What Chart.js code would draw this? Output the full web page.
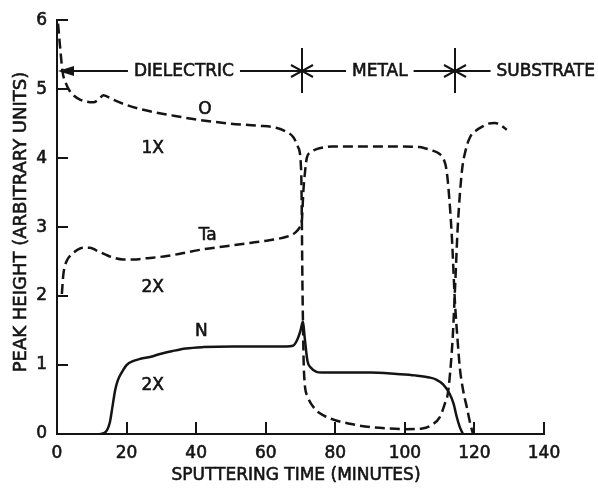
<!DOCTYPE html>
<html>
<head>
<meta charset="utf-8">
<script src="https://cdn.jsdelivr.net/npm/chart.js@4.4.0/dist/chart.umd.min.js"></script>
<style>
  html, body { margin: 0; padding: 0; background: #fff; }
  canvas { display: block; }
</style>
</head>
<body>
<canvas id="depthChart" width="598" height="489"></canvas>
<script>
// Profil de pulvérisation : O, Ta, N en fonction du temps
const oTime = [0.3, 1.0, 1.6, 2.6, 3.7, 5, 6.6, 8.5, 10.4, 12, 13.3, 16, 20, 26.7, 33, 40, 50, 58, 63, 66, 68, 69.3, 70.2, 70.6, 71, 72, 74, 77, 80, 85, 90, 95, 100, 105, 108, 110, 111.5, 112.4, 113.2, 113.8, 114.5, 115.2, 116.4, 117.5, 118.7, 120.5, 122.4, 124, 125.9, 127.5, 129.3];
const oPeak = [5.95, 5.55, 5.25, 5.08, 4.97, 4.9, 4.85, 4.82, 4.81, 4.85, 4.91, 4.85, 4.77, 4.68, 4.62, 4.56, 4.5, 4.47, 4.44, 4.38, 4.3, 4.16, 3.8, 2.0, 0.9, 0.55, 0.37, 0.26, 0.2, 0.14, 0.1, 0.08, 0.07, 0.08, 0.14, 0.24, 0.44, 0.6, 1.0, 1.44, 2.2, 3.0, 3.81, 4.12, 4.3, 4.4, 4.46, 4.5, 4.51, 4.48, 4.41];

const taTime = [1.4, 1.8, 2.3, 3, 3.7, 5, 7.5, 9.5, 11.4, 14, 16, 19, 21.8, 26, 31.6, 36, 41, 48, 55.5, 61, 66, 68.5, 69.8, 70.4, 70.8, 71.3, 71.8, 72.8, 74.6, 77, 79, 85, 95, 104, 106, 108, 110, 111.2, 112, 112.8, 113.5, 114.4, 115.1, 115.8, 116.8, 117.8, 118.8, 119.6];
const taPeak = [2.03, 2.3, 2.44, 2.53, 2.58, 2.64, 2.7, 2.7, 2.66, 2.6, 2.56, 2.53, 2.53, 2.55, 2.58, 2.62, 2.67, 2.72, 2.77, 2.81, 2.86, 2.92, 3.0, 3.1, 3.5, 3.8, 4.0, 4.08, 4.13, 4.16, 4.17, 4.17, 4.17, 4.16, 4.14, 4.11, 4.06, 3.98, 3.82, 3.4, 2.87, 1.91, 1.4, 0.96, 0.62, 0.39, 0.15, 0.0];

const nTime = [12.4, 14, 15.2, 15.8, 16.7, 17.5, 18.7, 20, 22, 24, 27, 29.6, 33, 37, 42, 50.7, 60, 66, 67.8, 69, 70, 70.7, 71.2, 72, 73, 74.6, 76, 80, 85, 90, 97.7, 103, 107, 109, 111, 112.9, 114, 114.9, 115.8, 116.7];
const nPeak = [0, 0.03, 0.17, 0.35, 0.63, 0.78, 0.9, 1.0, 1.06, 1.09, 1.12, 1.16, 1.2, 1.24, 1.26, 1.27, 1.27, 1.27, 1.28, 1.36, 1.5, 1.63, 1.4, 1.06, 0.96, 0.9, 0.89, 0.89, 0.89, 0.89, 0.87, 0.85, 0.82, 0.79, 0.72, 0.58, 0.44, 0.25, 0.1, 0.0];

const xTicks = [0, 20, 40, 60, 80, 100, 120, 140];
const yTicks = [0, 1, 2, 3, 4, 5, 6];

// Zones (limites en minutes) et étiquettes
const phaseBounds = [0, 70.4, 114.4];
const phaseNames = ['DIELECTRIC', 'METAL', 'SUBSTRATE'];
const phaseCenters = [36.5, 92.8, 140.5];
const phaseLevel = 5.27;

// Étiquettes des courbes : [texte, minutes, hauteur]
const curveLabels = [
    ['O', 42.5, 4.71],
    ['1X', 27.5, 4.14],
    ['Ta', 43.3, 2.87],
    ['2X', 27.5, 2.13],
    ['N', 41.5, 1.49],
    ['2X', 27.5, 0.7]
];

const INK = '#141414';
const FONT = '"DejaVu Sans", sans-serif';

function toPoints(xs, ys) {
    return xs.map((x, i) => ({ x: x, y: ys[i] }));
}

// texte un peu plus gras, comme le lettrage de la figure
function inkText(c, txt, x, y) {
    c.fillText(txt, x, y);
    c.strokeText(txt, x, y);
}

const decorations = {
    id: 'decorations',
    afterDraw(chart) {
        const c = chart.ctx;
        const xs = chart.scales.x;
        const ys = chart.scales.y;
        const area = chart.chartArea;
        c.save();
        c.strokeStyle = INK;
        c.fillStyle = INK;
        c.lineWidth = 2;

        // petites graduations vers l'intérieur
        yTicks.forEach(v => {
            const py = Math.round(ys.getPixelForValue(v));
            c.beginPath();
            c.moveTo(area.left, py);
            c.lineTo(area.left + 11, py);
            c.stroke();
        });
        xTicks.slice(1).forEach(v => {
            const px = Math.round(xs.getPixelForValue(v));
            c.beginPath();
            c.moveTo(px, area.bottom);
            c.lineTo(px, area.bottom - 12);
            c.stroke();
        });

        // titres des axes
        c.lineWidth = 0.6;
        c.font = '17px ' + FONT;
        c.textAlign = 'center';
        c.textBaseline = 'middle';
        inkText(c, 'SPUTTERING TIME (MINUTES)', 296, 476);
        c.save();
        c.translate(21, 222);
        c.rotate(-Math.PI / 2);
        c.font = '18px ' + FONT;
        inkText(c, 'PEAK HEIGHT (ARBITRARY UNITS)', 0, 0);
        c.restore();

        // étiquettes des courbes
        curveLabels.forEach(l => {
            inkText(c, l[0], xs.getPixelForValue(l[1]), ys.getPixelForValue(l[2]));
        });

        // bandeau des zones
        const y0 = Math.round(ys.getPixelForValue(phaseLevel));
        const bx = phaseBounds.map(b => Math.round(xs.getPixelForValue(b)));
        const textBox = phaseNames.map((n, i) => {
            const w = c.measureText(n).width;
            const cx = xs.getPixelForValue(phaseCenters[i]);
            inkText(c, n, cx, y0 + 1);
            return [cx - w / 2 - 6, cx + w / 2 + 6];
        });

        c.lineWidth = 2;
        function seg(a, b) {
            c.beginPath();
            c.moveTo(a, y0);
            c.lineTo(b, y0);
            c.stroke();
        }
        seg(bx[0] + 10, textBox[0][0]);
        seg(textBox[0][1], bx[1]);
        seg(bx[1], textBox[1][0]);
        seg(textBox[1][1], bx[2]);
        seg(bx[2], textBox[2][0]);

        // flèche pleine à gauche
        c.beginPath();
        c.moveTo(bx[0] + 1, y0);
        c.lineTo(bx[0] + 17, y0 - 5);
        c.lineTo(bx[0] + 17, y0 + 5);
        c.closePath();
        c.fill();

        // croix aux limites
        [bx[1], bx[2]].forEach(px => {
            c.beginPath();
            c.moveTo(px, y0 - 23);
            c.lineTo(px, y0 + 22);
            c.moveTo(px - 11, y0 - 6);
            c.lineTo(px, y0);
            c.lineTo(px - 11, y0 + 6);
            c.moveTo(px + 11, y0 - 6);
            c.lineTo(px, y0);
            c.lineTo(px + 11, y0 + 6);
            c.stroke();
        });
        c.restore();
    }
};

const ctx = document.getElementById('depthChart');
const tickFont = { family: FONT, size: 17 };

new Chart(ctx, {
    type: 'line',
    data: {
        datasets: [
            {
                label: 'O',
                data: toPoints(oTime, oPeak),
                borderColor: INK,
                borderWidth: 2.5,
                borderDash: [10, 5],
                pointRadius: 0,
                cubicInterpolationMode: 'monotone',
                fill: false
            },
            {
                label: 'Ta',
                data: toPoints(taTime, taPeak),
                borderColor: INK,
                borderWidth: 2.5,
                borderDash: [10, 5],
                pointRadius: 0,
                cubicInterpolationMode: 'monotone',
                fill: false
            },
            {
                label: 'N',
                data: toPoints(nTime, nPeak),
                borderColor: INK,
                borderWidth: 2.5,
                pointRadius: 0,
                cubicInterpolationMode: 'monotone',
                fill: false
            }
        ]
    },
    options: {
        responsive: false,
        animation: false,
        layout: { padding: { top: 14, right: 54, left: 0, bottom: 0 } },
        plugins: {
            legend: { display: false },
            tooltip: { enabled: false }
        },
        scales: {
            x: {
                type: 'linear',
                min: 0,
                max: 140,
                afterBuildTicks: s => { s.ticks = xTicks.map(v => ({ value: v })); },
                ticks: { color: INK, font: tickFont, padding: 9, maxRotation: 0, textStrokeColor: INK, textStrokeWidth: 0.6 },
                grid: { display: false, drawTicks: false },
                border: { display: true, color: INK, width: 2 },
                afterFit: s => { s.height = 55; }
            },
            y: {
                min: 0,
                max: 6,
                afterBuildTicks: s => { s.ticks = yTicks.map(v => ({ value: v })); },
                ticks: { color: INK, font: tickFont, padding: 10, textStrokeColor: INK, textStrokeWidth: 0.6 },
                grid: { display: false, drawTicks: false },
                border: { display: true, color: INK, width: 2 },
                afterFit: s => { s.width = 57; }
            }
        }
    },
    plugins: [decorations]
});
</script>
</body>
</html>
